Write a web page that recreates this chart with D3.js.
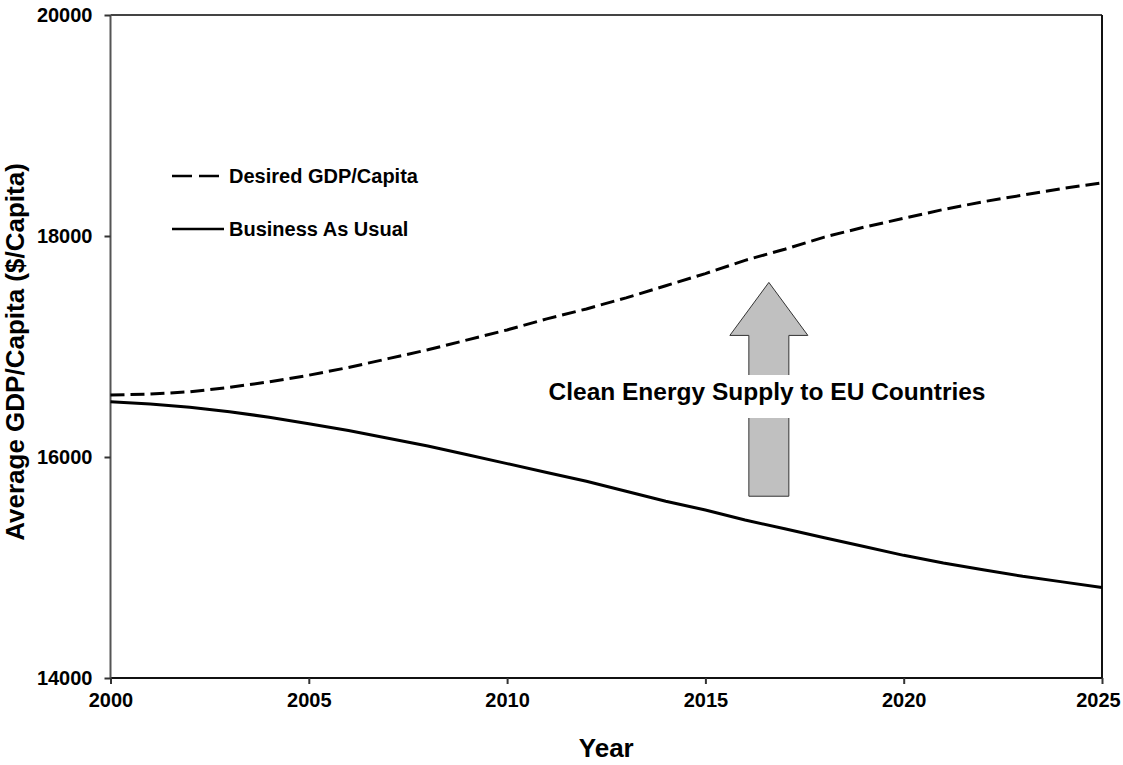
<!DOCTYPE html>
<html><head><meta charset="utf-8">
<script src="https://cdn.jsdelivr.net/npm/d3@7"></script>
<style>body{margin:0;background:#fff}svg{display:block}text{font-family:"Liberation Sans",Arial,sans-serif;font-weight:bold}</style>
</head><body>
<script>
const years = d3.range(2000, 2026);
const desired = [16560,16570,16590,16630,16680,16740,16810,16890,16970,17060,17150,17250,17340,17440,17550,17660,17780,17880,17990,18080,18160,18240,18310,18370,18430,18480];
const bau = [16500,16480,16450,16410,16360,16300,16240,16170,16100,16020,15940,15860,15780,15690,15600,15520,15430,15350,15270,15190,15110,15040,14980,14920,14870,14820];
const xTicks = [2000,2005,2010,2015,2020,2025];
const yTicks = [14000,16000,18000,20000];
const seriesNames = ["Desired GDP/Capita","Business As Usual"];
const annotation = "Clean Energy Supply to EU Countries";
const arrowFrom = [2016.6, 15645], arrowTo = [2016.6, 17580];

const W=1123,H=765, L=110.5, R=1102, T=15, B=678;
const svg=d3.select("body").append("svg").attr("width",W).attr("height",H);
const x=d3.scaleLinear().domain([2000,2025]).range([L,R]);
const y=d3.scaleLinear().domain([14000,20000]).range([B,T]);

// frame
svg.append("line").attr("x1",L).attr("x2",R).attr("y1",T).attr("y2",T).attr("stroke","#444").attr("stroke-width",2);
svg.append("line").attr("x1",R).attr("x2",R).attr("y1",T).attr("y2",B).attr("stroke","#111").attr("stroke-width",2);

const xa=svg.append("g").attr("transform",`translate(0,${B})`).call(d3.axisBottom(x).tickValues(xTicks).tickFormat(d3.format("d")).tickSize(6).tickPadding(9));
const ya=svg.append("g").attr("transform",`translate(${L},0)`).call(d3.axisLeft(y).tickValues(yTicks).tickFormat(d3.format("d")).tickSize(6).tickPadding(12));
xa.select(".domain").attr("stroke","#111").attr("stroke-width",2).attr("d",`M${L},0H${R}`);
ya.select(".domain").attr("stroke","#555").attr("stroke-width",2).attr("d",`M0,${T}V${B}`);
[xa,ya].forEach(a=>{a.selectAll(".tick line").attr("stroke","#333").attr("stroke-width",2);
 a.selectAll("text").attr("font-size",20).attr("fill","#000").attr("font-family","Liberation Sans, Arial").attr("font-weight","bold");});
xa.selectAll(".tick text").filter(d=>d===2025).attr("x",-4);

const line=d3.line().x((d,i)=>x(years[i])).y(d=>y(d));
svg.append("path").datum(desired).attr("d",line).attr("fill","none").attr("stroke","#000").attr("stroke-width",3).attr("stroke-dasharray","14,6");
svg.append("path").datum(bau).attr("d",line).attr("fill","none").attr("stroke","#000").attr("stroke-width",3);

// legend
const lg=svg.append("g");
lg.append("line").attr("x1",172).attr("x2",222).attr("y1",176).attr("y2",176).attr("stroke","#000").attr("stroke-width",2.5).attr("stroke-dasharray","20,7");
lg.append("line").attr("x1",172).attr("x2",224).attr("y1",229).attr("y2",229).attr("stroke","#000").attr("stroke-width",2.5);
lg.append("text").attr("x",229).attr("y",183).attr("font-size",20).text(seriesNames[0]);
lg.append("text").attr("x",229).attr("y",236).attr("font-size",20).text(seriesNames[1]);

// arrow
const ax=x(arrowFrom[0]), yb=y(arrowFrom[1]), yt=y(arrowTo[1]);
const hw=39, sw=20, hh=53;
const pts=[[ax,yt],[ax+hw,yt+hh],[ax+sw,yt+hh],[ax+sw,yb],[ax-sw,yb],[ax-sw,yt+hh],[ax-hw,yt+hh]];
svg.append("path").attr("d","M"+pts.map(p=>p.join(",")).join("L")+"Z").attr("fill","#c0c0c0").attr("stroke","#333").attr("stroke-width",1);
svg.append("rect").attr("x",545).attr("y",375).attr("width",445).attr("height",43).attr("fill","#fff");
svg.append("text").attr("x",767).attr("y",400).attr("text-anchor","middle").attr("font-size",24.5).text(annotation);

// titles
svg.append("text").attr("x",(L+R)/2).attr("y",757).attr("text-anchor","middle").attr("font-size",26).text("Year");
svg.append("text").attr("transform","translate(24,352) rotate(-90)").attr("text-anchor","middle").attr("font-size",26).text("Average GDP/Capita ($/Capita)");
</script>
</body></html>
